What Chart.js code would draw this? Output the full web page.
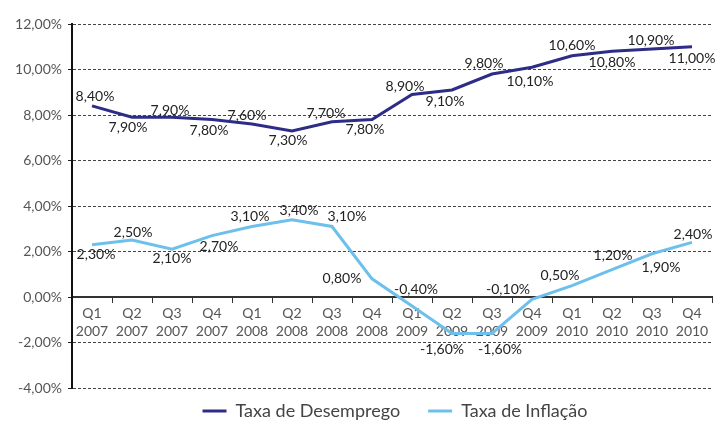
<!DOCTYPE html>
<html>
<head>
<meta charset="utf-8">
<script src="https://cdn.jsdelivr.net/npm/chart.js@4/dist/chart.umd.min.js"></script>
<style>
  html, body { margin: 0; padding: 0; background: #fff; }
  #wrap { width: 718px; height: 422px; }
</style>
</head>
<body>
<div id="wrap"><canvas id="chart" width="718" height="422"></canvas></div>
<script>
// quarters / years
const quarters = ["Q1", "Q2", "Q3", "Q4", "Q1", "Q2", "Q3", "Q4", "Q1", "Q2", "Q3", "Q4", "Q1", "Q2", "Q3", "Q4"];
const years = ["2007", "2007", "2007", "2007", "2008", "2008", "2008", "2008", "2009", "2009", "2009", "2009", "2010", "2010", "2010", "2010"];

// series values (%)
const desemprego = [8.4, 7.9, 7.9, 7.8, 7.6, 7.3, 7.7, 7.8, 8.9, 9.1, 9.8, 10.1, 10.6, 10.8, 10.9, 11.0];
const inflacao = [2.3, 2.5, 2.1, 2.7, 3.1, 3.4, 3.1, 0.8, -0.4, -1.6, -1.6, -0.1, 0.5, 1.2, 1.9, 2.4];

// y axis
const yMin = -4;
const yMax = 12;
const yStep = 2;

// where each value label sits relative to its point [dx, dy]
const desempregoLabelPos = [[3, -9], [-4, 10], [-2, -7], [-3, 11], [-5, -9], [-4, 10], [-6, -8], [-7, 10],
  [-7, -8], [-7, 12], [-8, -11], [-2, 14], [0, -10], [0, 11], [-1, -9], [0, 12]];
const inflacaoLabelPos = [[4, 10], [1, -8], [0, 9], [7, 11], [-2, -10], [7, -9], [15, -10], [-30, 0],
  [4, -17], [-10, 16], [8, 16], [-24, -10], [-12, -10], [1, -14], [9, 14], [1, -8]];

const fmt = (v) => v.toFixed(2).replace(".", ",") + "%";

// value labels drawn next to each point
const valueLabels = {
  id: "valueLabels",
  afterDatasetsDraw(chart) {
    const c = chart.ctx;
    c.save();
    c.font = "14px Lato";
    c.fillStyle = "#222";
    c.textAlign = "center";
    c.textBaseline = "middle";
    chart.data.datasets.forEach((ds, di) => {
      const meta = chart.getDatasetMeta(di);
      meta.data.forEach((pt, i) => {
        const off = ds.labelPos[i];
        c.fillText(fmt(ds.data[i]), pt.x + off[0], pt.y + off[1]);
      });
    });
    c.restore();
  },
};

// legend centred under the plot, not the whole canvas
const legendUnderPlot = {
  id: "legendUnderPlot",
  afterLayout(chart) {
    const lg = chart.legend;
    lg.left = chart.chartArea.left + 6;
    lg.right = chart.chartArea.right;
    lg.top = 374;
  },
};

const ctx = document.getElementById("chart").getContext("2d");
new Chart(ctx, {
  type: "line",
  data: {
    labels: quarters.map((q, i) => [q, years[i]]),
    datasets: [
      {
        label: "Taxa de Desemprego",
        data: desemprego,
        labelPos: desempregoLabelPos,
        borderColor: "#2d2c86",
        backgroundColor: "#2d2c86",
        borderWidth: 3,
        pointRadius: 0,
        tension: 0,
      },
      {
        label: "Taxa de Inflação",
        data: inflacao,
        labelPos: inflacaoLabelPos,
        borderColor: "#6dc0eb",
        backgroundColor: "#6dc0eb",
        borderWidth: 3,
        pointRadius: 0,
        tension: 0,
      },
    ],
  },
  options: {
    responsive: false,
    animation: false,
    layout: { padding: { top: 24, right: 6, left: 0, bottom: 0 } },
    scales: {
      x: {
        position: { y: 0 },
        offset: true,
        grid: {
          offset: true,
          drawOnChartArea: false,
          drawTicks: true,
          tickLength: 5,
          color: "#333",
          lineWidth: 1,
        },
        border: { color: "#333", width: 2 },
        ticks: {
          color: "#555",
          font: { family: "Lato", size: 14, lineHeight: 1.25 },
          padding: 3,
          maxRotation: 0,
          autoSkip: false,
        },
      },
      y: {
        min: yMin,
        max: yMax,
        afterFit: (s) => { s.width = 72; },
        grid: {
          color: "#444",
          lineWidth: 1,
          tickLength: 4,
          tickColor: "#222",
        },
        border: { color: "#111", width: 2, dash: [3, 2] },
        ticks: {
          stepSize: yStep,
          color: "#555",
          padding: 6,
          font: { family: "Lato", size: 14 },
          callback: (v) => fmt(v),
        },
      },
    },
    plugins: {
      legend: {
        position: "bottom",
        maxHeight: 34,
        labels: {
          usePointStyle: true,
          pointStyle: "line",
          pointStyleWidth: 24,
          color: "#444",
          padding: 28,
          font: { family: "Lato", size: 18 },
        },
      },
      tooltip: { enabled: false },
    },
  },
  plugins: [valueLabels, legendUnderPlot],
});
</script>
</body>
</html>
